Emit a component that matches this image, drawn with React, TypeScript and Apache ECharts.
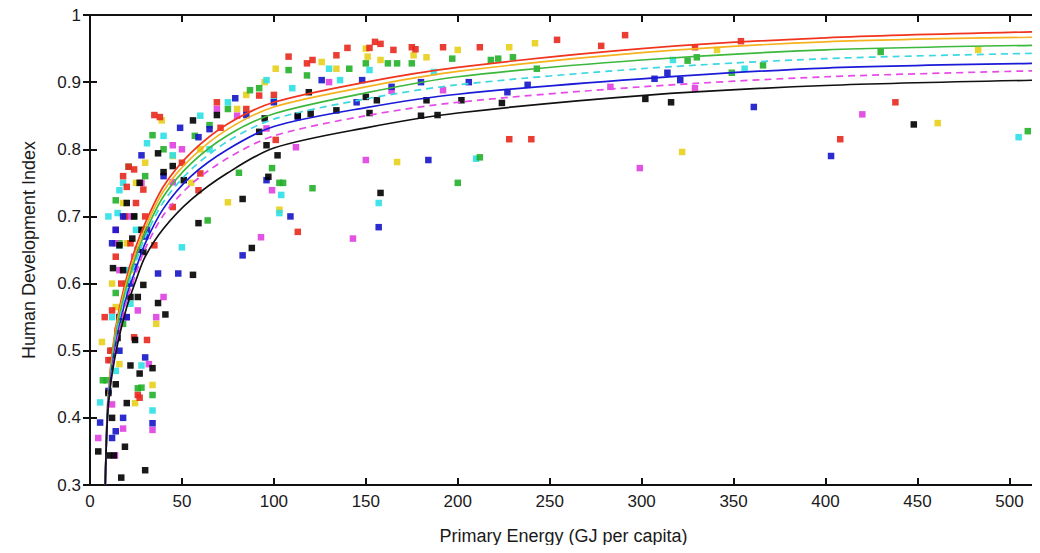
import React, { useEffect, useRef } from "react";
import * as echarts from "echarts";

// Scatter data [primary energy GJ/capita, HDI] per colour group
const redPts: number[][] = [
  [108, 0.938], [118, 0.928], [121, 0.933], [134, 0.94], [140, 0.951], [152, 0.951], [155, 0.96], [158, 0.957],
  [165, 0.948], [175, 0.952], [177, 0.949], [192, 0.952], [212, 0.952], [254, 0.963], [278, 0.954], [291, 0.97],
  [329, 0.952], [354, 0.961], [515, 0.973], [228, 0.815], [240, 0.815], [408, 0.815], [438, 0.87], [113, 0.677],
  [69, 0.87], [71, 0.832], [92, 0.88], [100, 0.881], [101, 0.814], [85, 0.86], [35, 0.851], [38, 0.848], [50, 0.78],
  [60, 0.764], [59, 0.739], [21, 0.774], [20, 0.744], [24, 0.77], [45, 0.714], [35, 0.657], [29, 0.74], [18, 0.76],
  [31, 0.516], [24, 0.52], [8, 0.55], [11, 0.5], [10, 0.486], [26, 0.434], [27, 0.43], [22, 0.66], [14, 0.64],
  [17, 0.6], [12, 0.56], [19, 0.7], [25, 0.72], [30, 0.7], [15, 0.53],
];
const yellowPts: number[][] = [
  [101, 0.92], [85, 0.881], [126, 0.93], [134, 0.92], [151, 0.938], [158, 0.933], [176, 0.94], [183, 0.937],
  [200, 0.948], [228, 0.952], [242, 0.958], [341, 0.948], [483, 0.948], [167, 0.781], [103, 0.71], [75, 0.721],
  [322, 0.796], [461, 0.839], [39, 0.843], [6.5, 0.513], [24.5, 0.422], [34, 0.449], [14, 0.565], [25, 0.75],
  [18, 0.72], [30, 0.78], [12, 0.6], [20, 0.66], [28, 0.68], [16, 0.48], [36, 0.54], [22, 0.62], [45, 0.79],
  [60, 0.8], [55, 0.75], [80, 0.86], [150, 0.95], [95, 0.9],
];
const greenPts: number[][] = [
  [108, 0.918], [118, 0.91], [141, 0.92], [150, 0.928], [162, 0.928], [167, 0.928], [175, 0.928], [197, 0.935],
  [218, 0.933], [222, 0.935], [230, 0.937], [243, 0.92], [325, 0.932], [330, 0.937], [366, 0.925], [430, 0.945],
  [510, 0.827], [349, 0.914], [200, 0.75], [121, 0.742], [212, 0.788], [103, 0.75], [99, 0.772], [105, 0.75],
  [87, 0.888], [92, 0.891], [81, 0.765], [64, 0.694], [65, 0.836], [57, 0.82], [34, 0.821], [21, 0.774], [14, 0.724],
  [14, 0.586], [7, 0.456], [9, 0.456], [26, 0.444], [34, 0.434], [28, 0.445], [20, 0.6], [16, 0.66], [24, 0.7],
  [12, 0.5], [30, 0.76], [18, 0.54], [40, 0.8], [75, 0.86],
];
const cyanPts: number[][] = [
  [110, 0.891], [136, 0.903], [152, 0.918], [187, 0.915], [210, 0.786], [157, 0.72], [104, 0.732], [103, 0.705],
  [317, 0.933], [356, 0.92], [505, 0.818], [96, 0.903], [31, 0.809], [45, 0.791], [16, 0.739], [15, 0.705],
  [16, 0.657], [50, 0.654], [100, 0.873], [60, 0.85], [5.5, 0.423], [28, 0.478], [34, 0.411], [12, 0.55],
  [20, 0.62], [25, 0.68], [14, 0.47], [22, 0.57], [18, 0.75], [10, 0.7], [40, 0.82], [75, 0.87], [65, 0.8], [130, 0.92],
];
const bluePts: number[][] = [
  [126, 0.903], [148, 0.903], [164, 0.893], [180, 0.9], [206, 0.9], [227, 0.885], [238, 0.896], [184, 0.784],
  [157, 0.684], [109, 0.7], [145, 0.87], [307, 0.905], [314, 0.914], [321, 0.903], [361, 0.863], [403, 0.79],
  [79, 0.876], [85, 0.851], [96, 0.754], [83, 0.642], [28, 0.791], [49, 0.832], [59, 0.818], [37, 0.615], [48, 0.615],
  [14, 0.68], [31, 0.68], [30, 0.67], [24, 0.625], [113, 0.848], [30, 0.49], [34, 0.392], [5.5, 0.393], [18, 0.4],
  [12, 0.37], [14, 0.38], [20, 0.55], [16, 0.5], [22, 0.6], [10, 0.44], [26, 0.65], [18, 0.7], [40, 0.76], [65, 0.83],
  [100, 0.87], [12, 0.66],
];
const magentaPts: number[][] = [
  [112, 0.803], [150, 0.784], [143, 0.667], [299, 0.772], [192, 0.888], [164, 0.887], [283, 0.893], [420, 0.852],
  [329, 0.891], [69, 0.86], [96, 0.831], [99, 0.739], [93, 0.669], [45, 0.806], [45, 0.751], [14, 0.68], [14, 0.66],
  [40, 0.58], [36, 0.55], [26, 0.56], [32, 0.48], [34, 0.382], [18, 0.384], [4.5, 0.37], [13.6, 0.344], [11, 0.486],
  [20, 0.55], [16, 0.62], [22, 0.7], [28, 0.75], [12, 0.42], [24, 0.64], [50, 0.8], [80, 0.85], [130, 0.9],
];
const blackPts: number[][] = [
  [119, 0.885], [113, 0.85], [120, 0.853], [134, 0.858], [150, 0.878], [156, 0.873], [152, 0.854], [183, 0.873],
  [180, 0.85], [189, 0.851], [202, 0.873], [224, 0.869], [158, 0.735], [302, 0.875], [316, 0.87], [448, 0.837],
  [69, 0.851], [95, 0.846], [92, 0.826], [96, 0.806], [102, 0.791], [97, 0.759], [83, 0.726], [88, 0.653],
  [59, 0.69], [56, 0.613], [37, 0.794], [40, 0.766], [56, 0.843], [45, 0.775], [51, 0.754], [27, 0.75], [28, 0.68],
  [23, 0.667], [29, 0.647], [16, 0.657], [12.5, 0.623], [37, 0.571], [41, 0.554], [29, 0.598], [24.5, 0.516],
  [34, 0.474], [27, 0.466], [10, 0.437], [19, 0.357], [4.5, 0.35], [17, 0.311], [30, 0.322], [15, 0.519], [26, 0.58],
  [22, 0.478], [20, 0.422], [13, 0.344], [10, 0.344], [20, 0.72], [18, 0.62], [14, 0.45], [12, 0.4], [16, 0.55],
  [22, 0.58], [24, 0.7],
];

// Fitted curves, read at these energies
const curveE = [8.3, 9, 10, 12, 15, 20, 25, 30, 40, 55, 75, 100, 150, 200, 300, 400, 515];
const redFit = [0.3, 0.38, 0.44, 0.495, 0.55, 0.61, 0.655, 0.69, 0.745, 0.795, 0.838, 0.87, 0.9, 0.922, 0.95, 0.966, 0.975];
const orangeFit = [0.3, 0.378, 0.437, 0.49, 0.545, 0.603, 0.648, 0.683, 0.738, 0.787, 0.83, 0.863, 0.893, 0.916, 0.944, 0.96, 0.967];
const greenFit = [0.3, 0.376, 0.433, 0.485, 0.538, 0.596, 0.64, 0.676, 0.73, 0.779, 0.821, 0.853, 0.884, 0.908, 0.933, 0.948, 0.955];
const cyanFit = [0.3, 0.375, 0.43, 0.48, 0.532, 0.59, 0.633, 0.669, 0.722, 0.77, 0.812, 0.845, 0.875, 0.896, 0.92, 0.935, 0.943];
const blueFit = [0.3, 0.373, 0.426, 0.475, 0.524, 0.582, 0.622, 0.66, 0.712, 0.76, 0.8, 0.834, 0.862, 0.882, 0.905, 0.921, 0.928];
const magentaFit = [0.3, 0.372, 0.424, 0.47, 0.518, 0.575, 0.615, 0.652, 0.702, 0.748, 0.787, 0.82, 0.85, 0.87, 0.893, 0.908, 0.917];
const blackFit = [0.3, 0.37, 0.42, 0.465, 0.51, 0.565, 0.605, 0.64, 0.682, 0.725, 0.765, 0.802, 0.832, 0.854, 0.88, 0.895, 0.903];

const xTickStep = 50;
const yTickStep = 0.1;

export default function App() {
  const ref = useRef<HTMLDivElement>(null);
  useEffect(() => {
    if (!ref.current) return;
    const chart = echarts.init(ref.current, null, { renderer: "svg" });
    const font = "'Liberation Sans', Arial, sans-serif";
    const scatter = (data: number[][], color: string) => ({
      type: "scatter",
      data,
      symbol: "rect",
      symbolSize: 6.5,
      itemStyle: { color, opacity: 0.9 },
      z: 2,
    });
    const line = (vals: number[], color: string, dashed: boolean) => ({
      type: "line",
      data: curveE.map((e, i) => [e, vals[i]]),
      showSymbol: false,
      symbol: "none",
      smooth: 0.3,
      lineStyle: { color, width: 1.7, type: dashed ? [7, 5] : "solid" },
      z: 3,
    });
    const axisCommon = {
      axisLine: { show: true, lineStyle: { color: "#111", width: 2 } },
      axisTick: { show: true, inside: true, length: 7, lineStyle: { color: "#111", width: 2 } },
      splitLine: { show: false },
    };
    chart.setOption({
      animation: false,
      backgroundColor: "#fff",
      grid: { left: 90, right: 3, top: 15, bottom: 68, containLabel: false },
      xAxis: [
        {
          type: "value",
          min: 0,
          max: 515,
          interval: xTickStep,
          position: "bottom",
          ...axisCommon,
          axisLabel: {
            fontSize: 17,
            color: "#1a1a1a",
            fontFamily: font,
            margin: 8,
            formatter: (v: number) => (v % 50 === 0 ? String(v) : ""),
          },
          name: "Primary Energy (GJ per capita)",
          nameLocation: "middle",
          nameGap: 42,
          nameTextStyle: { fontSize: 18, color: "#1a1a1a", fontFamily: font },
        },
        {
          type: "value",
          min: 0,
          max: 515,
          interval: xTickStep,
          position: "top",
          ...axisCommon,
          axisLabel: { show: false },
        },
      ],
      yAxis: [
        {
          type: "value",
          min: 0.3,
          max: 1,
          interval: yTickStep,
          position: "left",
          ...axisCommon,
          axisLabel: {
            fontSize: 17,
            color: "#1a1a1a",
            fontFamily: font,
            margin: 9,
            formatter: (v: number) => String(Math.round(v * 10) / 10),
          },
          name: "Human Development Index",
          nameLocation: "middle",
          nameGap: 52,
          nameTextStyle: { fontSize: 18, color: "#1a1a1a", fontFamily: font },
        },
        {
          type: "value",
          min: 0.3,
          max: 1,
          interval: yTickStep,
          position: "right",
          ...axisCommon,
          axisLabel: { show: false },
        },
      ],
      series: [
        scatter(yellowPts, "#e8cf1a"),
        scatter(cyanPts, "#2ee0e6"),
        scatter(greenPts, "#24b02a"),
        scatter(magentaPts, "#e040e0"),
        scatter(redPts, "#e8281e"),
        scatter(bluePts, "#1515c8"),
        scatter(blackPts, "#000000"),
        line(redFit, "#f0341e", false),
        line(orangeFit, "#f5b21e", false),
        line(greenFit, "#3cb83c", false),
        line(cyanFit, "#3ad8e0", true),
        line(blueFit, "#1a1ad8", false),
        line(magentaFit, "#e84ae8", true),
        line(blackFit, "#111111", false),
      ],
    });
    return () => chart.dispose();
  }, []);
  return <div ref={ref} style={{ width: 1040, height: 553, margin: -8 }} />;
}
